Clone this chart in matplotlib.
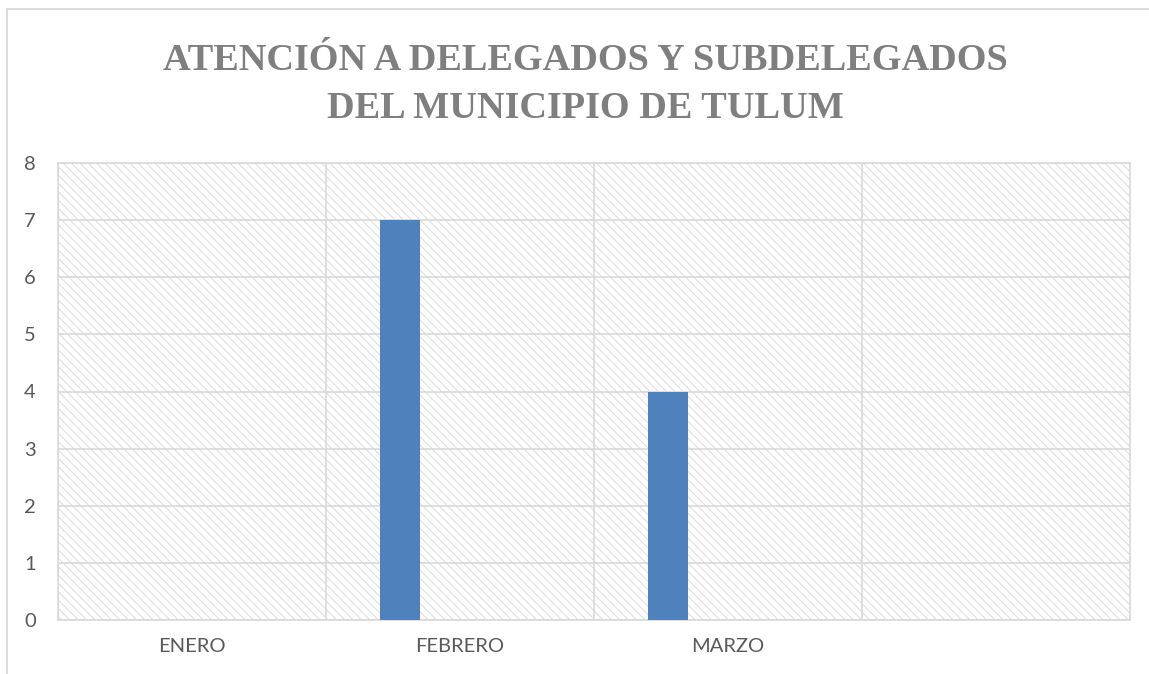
import matplotlib
matplotlib.use("Agg")
import matplotlib.pyplot as plt
from matplotlib.patches import Rectangle
from matplotlib.lines import Line2D
import numpy as np

# data
categories = ["ENERO", "FEBRERO", "MARZO", ""]
values = [0, 7, 4, 0]
title_lines = ["ATENCIÓN A DELEGADOS Y SUBDELEGADOS", "DEL MUNICIPIO DE TULUM"]
y_ticks = list(range(0, 9))

GRID = "#d9d9d9"
BAR = "#4f81bd"
TEXT = "#595959"

plt.rcParams["hatch.linewidth"] = 0.6

fig = plt.figure(figsize=(11.49, 6.74), dpi=100)
ax = fig.add_axes([58 / 1149, 1 - 620 / 674, (1130 - 58) / 1149, (620 - 163) / 674])

# chart-area border (left and top only visible)
fig.add_artist(Line2D([7 / 1149, 7 / 1149], [0, 1 - 9 / 674], transform=fig.transFigure,
                      color=GRID, lw=1.3))
fig.add_artist(Line2D([7 / 1149, 1], [1 - 9 / 674, 1 - 9 / 674], transform=fig.transFigure,
                      color=GRID, lw=1.3))

# hatched plot-area background
ax.add_patch(Rectangle((0, 0), 1, 1, transform=ax.transAxes, facecolor="white",
                       edgecolor="#d6d6d6", hatch="\\" * 4, lw=0, zorder=0))

x = np.arange(len(categories))
bar_w = 0.149
ax.bar(x - 1.5 * bar_w, values, width=bar_w, color=BAR, zorder=3)

ax.set_xlim(-0.5, len(categories) - 0.5)
ax.set_ylim(0, 8)
ax.set_yticks(y_ticks)
ax.set_xticks(x)
ax.set_xticklabels(categories)

# gridlines: horizontal at ticks, vertical at category boundaries
for yv in y_ticks:
    ax.axhline(yv, color=GRID, lw=1.2, zorder=1)
for xv in np.arange(-0.5, len(categories), 1.0):
    ax.axvline(xv, color=GRID, lw=1.2, zorder=1)

for s in ax.spines.values():
    s.set_color(GRID)
    s.set_linewidth(1.2)

ax.tick_params(length=0, labelcolor=TEXT, labelsize=14.5)
ax.tick_params(axis="x", pad=13)
ax.tick_params(axis="y", pad=16)
for lab in ax.get_xticklabels() + ax.get_yticklabels():
    lab.set_family("Lato")

fig.text(585 / 1149, 1 - 70 / 674, title_lines[0], ha="center", va="baseline",
         family="Liberation Serif", weight="bold", fontsize=27.5, color="#7f7f7f")
fig.text(585 / 1149, 1 - 118 / 674, title_lines[1], ha="center", va="baseline",
         family="Liberation Serif", weight="bold", fontsize=27.5, color="#7f7f7f")

fig.savefig("out.png", dpi=100)
